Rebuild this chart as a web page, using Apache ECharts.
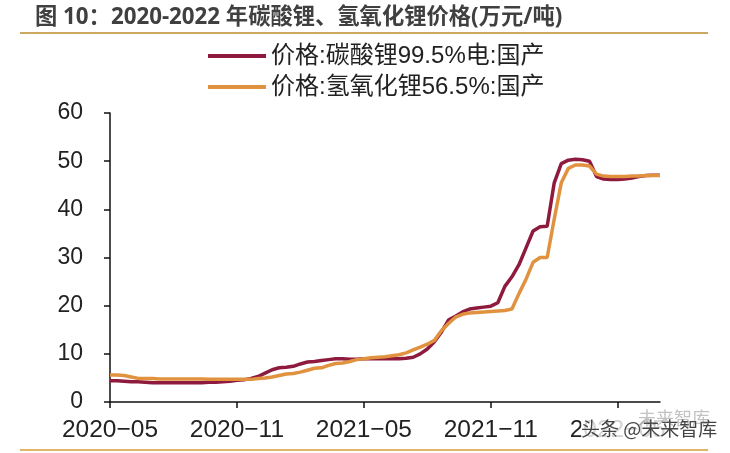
<!DOCTYPE html>
<html>
<head>
<meta charset="utf-8">
<style>html,body{margin:0;padding:0;background:#fff}#chart{width:730px;height:453px}</style>
<script src="https://cdn.jsdelivr.net/npm/echarts@6/dist/echarts.min.js"></script>
</head>
<body>
<div id="chart"></div>
<script>
var months = ['2020-05','2020-06','2020-07','2020-08','2020-09','2020-10','2020-11','2020-12',
  '2021-01','2021-02','2021-03','2021-04','2021-05','2021-06','2021-07','2021-08','2021-09','2021-10','2021-11','2021-12',
  '2022-01','2022-02','2022-03','2022-04','2022-05','2022-06','2022-07'];
var yTicks = [0, 10, 20, 30, 40, 50, 60];
var carbonateName = '价格:碳酸锂99.5%电:国产';
var hydroxideName = '价格:氢氧化锂56.5%:国产';
// 每月三个点
var carbonate = [4.4,4.4,4.3,4.2,4.2,4.1,4.0,4.0,4.0,4.0,4.0,4.0,4.0,4.0,4.1,4.1,4.2,4.3,
  4.5,4.6,4.9,5.3,6.0,6.7,7.1,7.2,7.4,7.9,8.3,8.4,8.6,8.8,9.0,9.0,8.9,8.9,
  9.0,9.0,9.0,9.0,9.0,9.0,9.1,9.3,10.0,11.0,12.5,14.5,17.0,17.8,18.7,19.3,19.5,19.7,
  19.9,20.6,24.0,26.0,28.5,32.0,35.5,36.4,36.5,45.5,49.5,50.2,50.4,50.3,50.0,46.8,46.3,46.2,
  46.2,46.3,46.5,46.8,47.0,47.1,47.1];
var hydroxide = [5.6,5.6,5.5,5.2,4.9,4.9,4.9,4.8,4.8,4.8,4.8,4.8,4.8,4.8,4.7,4.7,4.7,4.7,
  4.7,4.7,4.7,4.9,5.0,5.2,5.5,5.8,5.9,6.2,6.6,7.0,7.1,7.6,8.0,8.1,8.4,8.8,
  9.0,9.2,9.3,9.4,9.6,9.8,10.2,10.8,11.4,12.0,12.8,14.8,16.3,17.6,18.2,18.5,18.6,18.7,
  18.8,18.9,19.0,19.3,22.5,25.5,29.0,30.0,30.0,38.0,45.5,48.5,49.2,49.2,49.0,47.3,46.9,46.8,
  46.8,46.8,46.9,46.9,47.0,47.0,47.0];

var categories = [];
months.forEach(function (m, i) {
  categories.push(m);
  if (i < months.length - 1) { categories.push(m + '-11'); categories.push(m + '-21'); }
});

var myChart = echarts.init(document.getElementById('chart'));
var font = '"Liberation Sans","Noto Sans CJK SC",sans-serif';
var option = {
  animation: false,
  backgroundColor: '#fff',
  title: {
    text: '图 10：2020-2022 年碳酸锂、氢氧化锂价格(万元/吨)',
    left: 30, top: 1,
    textStyle: { fontFamily: '"Open Sans","Noto Sans CJK SC",sans-serif', fontSize: 22.3, fontWeight: 'bold', color: '#404040' }
  },
  legend: {
    orient: 'vertical',
    left: 203, top: 39,
    itemWidth: 58, itemHeight: 4, itemGap: 7,
    icon: 'rect',
    textStyle: { fontFamily: font, fontSize: 24, color: '#222' },
    data: [carbonateName, hydroxideName]
  },
  grid: { left: 110, right: 70, top: 113, bottom: 51 },
  xAxis: {
    type: 'category',
    boundaryGap: false,
    data: categories,
    axisLine: { lineStyle: { color: '#111', width: 1.5 } },
    axisTick: { interval: 17, length: 6, lineStyle: { color: '#111', width: 1.5 } },
    axisLabel: {
      interval: 17, margin: 16,
      fontFamily: font, fontSize: 24.5, color: '#222',
      formatter: function (v) { return v.replace('-', '−'); }
    }
  },
  yAxis: {
    type: 'value',
    min: yTicks[0], max: yTicks[yTicks.length - 1], interval: 10,
    splitLine: { show: false },
    axisLine: { show: true, lineStyle: { color: '#111', width: 1.5 } },
    axisTick: { show: true, length: 6, lineStyle: { color: '#111', width: 1.5 } },
    axisLabel: { margin: 27, fontFamily: font, fontSize: 23, color: '#222' }
  },
  series: [
    { name: carbonateName, type: 'line', data: carbonate, symbol: 'none',
      itemStyle: { color: '#8e1a3e' }, lineStyle: { color: '#8e1a3e', width: 3.5 } },
    { name: hydroxideName, type: 'line', data: hydroxide, symbol: 'none',
      itemStyle: { color: '#e0923f' }, lineStyle: { color: '#e0923f', width: 3.5 } }
  ],
  graphic: [
    { type: 'rect', left: 20, top: 32, shape: { width: 688, height: 2 }, style: { fill: '#cfa85f' } },
    { type: 'rect', left: 20, top: 449, shape: { width: 688, height: 2 }, style: { fill: '#e3b46a' } },
    { type: 'text', left: 581, top: 419, z: 10,
      style: { text: '头条 @未来智库', fontFamily: '"Noto Sans CJK SC"', fontSize: 19, fill: '#444',
        backgroundColor: 'rgba(255,255,255,.8)' } },
    { type: 'text', left: 638, top: 409, z: 11,
      style: { text: '未来智库', fontFamily: '"Noto Sans CJK SC"', fontSize: 18, fill: 'rgba(120,120,120,.45)' } }
  ]
};
myChart.setOption(option);
</script>
</body>
</html>
